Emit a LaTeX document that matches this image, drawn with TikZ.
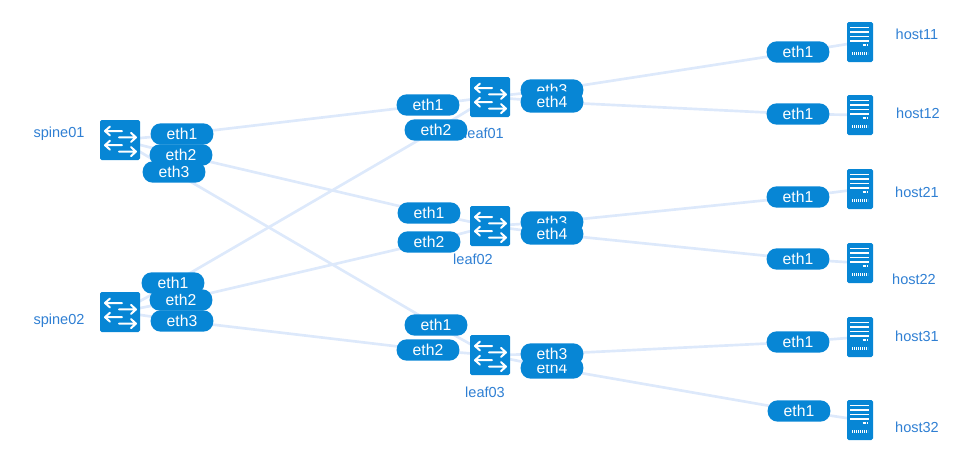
\documentclass[tikz,border=0pt]{standalone}
\usepackage{fontspec}
\setmainfont{Liberation Sans}
\definecolor{portblue}{HTML}{0786D5}
\definecolor{linkblue}{HTML}{DDE9FB}
\definecolor{labelblue}{HTML}{2F7FD3}
\tikzset{
  link/.style={draw=linkblue,line width=2pt},
  port/.style={fill=portblue,text=white,rounded corners=7.5pt,minimum width=47pt,minimum height=16pt,inner sep=0pt,font=\fontsize{11.8pt}{13pt}\selectfont},
  devlabel/.style={text=labelblue,inner sep=0pt,font=\fontsize{10.9pt}{12pt}\selectfont},
  swbox/.style={fill=portblue,rounded corners=1.2pt,minimum size=30pt,inner sep=0pt},
  hostbox/.style={fill=portblue,rounded corners=1.2pt,minimum width=19.5pt,minimum height=30pt,inner sep=0pt},
  glyph/.style={draw=white,line width=1.5pt,line cap=round,line join=round},
  glyphthin/.style={draw=white,line width=1.05pt},
}
\newcommand{\swnode}[2]{%
  \node[swbox] (#1) at (#2) {};
  \begin{scope}[shift={(#1.center)}]
    \foreach \yy in {-9,5.2}{
      \draw[glyph] (2,\yy)--(-15,\yy) (-10,\yy-4.5)--(-15,\yy)--(-10,\yy+4.5);
      \draw[glyph] (-1,\yy+6.4)--(16,\yy+6.4) (11,\yy+1.9)--(16,\yy+6.4)--(11,\yy+10.9);
    }
  \end{scope}}
\newcommand{\hostnode}[2]{%
  \node[hostbox] (#1) at (#2) {};
  \begin{scope}[shift={(#1.center)}]
    \foreach \yy in {-14.3,-10,-5.3,-1}{
      \draw[glyphthin] (-9.7,\yy)--(9.3,\yy);
    }
    \draw[glyphthin,line width=0.9pt,dash pattern=on 2.4pt off 0.8pt] (2.5,3)--(8,3);
    \draw[glyphthin,line width=1.6pt,dash pattern=on 0.8pt off 0.7pt] (-8,11.5)--(8,11.5);
  \end{scope}}
\begin{document}
\begin{tikzpicture}[x=0.75pt,y=-0.75pt]
\useasboundingbox (0,0) rectangle (964,464);
% anchors for connector routing (device centres / port centres)
\coordinate (cS1) at (120,140);
\coordinate (cS2) at (120,312);
\coordinate (cL1) at (490,97);
\coordinate (cL2) at (490,226);
\coordinate (cL3) at (490,355);
\coordinate (cH1) at (860,42);
\coordinate (cH2) at (860,115);
\coordinate (cH3) at (860,189);
\coordinate (cH4) at (860,263);
\coordinate (cH5) at (860,337);
\coordinate (cH6) at (860,420);
\coordinate (pS1a) at (182,134);
\coordinate (pS1b) at (181,155);
\coordinate (pS1c) at (174,172);
\coordinate (pS2a) at (173,283);
\coordinate (pS2b) at (181,300);
\coordinate (pS2c) at (182,321);
\coordinate (pL1a) at (428,105);
\coordinate (pL1b) at (436,130);
\coordinate (pL1c) at (552,90);
\coordinate (pL1d) at (552,102);
\coordinate (pL2a) at (429,213);
\coordinate (pL2b) at (429,242);
\coordinate (pL2c) at (552,222);
\coordinate (pL2d) at (552,234);
\coordinate (pL3a) at (436,325);
\coordinate (pL3b) at (428,350);
\coordinate (pL3c) at (552,354);
\coordinate (pL3d) at (552,368);
\coordinate (pH1) at (798,52);
\coordinate (pH2) at (798,114);
\coordinate (pH3) at (798,197);
\coordinate (pH4) at (798,259);
\coordinate (pH5) at (798,342);
\coordinate (pH6) at (799,411);
% links
\draw[link] (cS1)--(pS1a)--(pL1a)--(cL1);
\draw[link] (cS1)--(pS1b)--(pL2a)--(cL2);
\draw[link] (cS1)--(pS1c)--(pL3a)--(cL3);
\draw[link] (cS2)--(pS2a)--(pL1b)--(cL1);
\draw[link] (cS2)--(pS2b)--(pL2b)--(cL2);
\draw[link] (cS2)--(pS2c)--(pL3b)--(cL3);
\draw[link] (cL1)--(pL1c)--(pH1)--(cH1);
\draw[link] (cL1)--(pL1d)--(pH2)--(cH2);
\draw[link] (cL2)--(pL2c)--(pH3)--(cH3);
\draw[link] (cL2)--(pL2d)--(pH4)--(cH4);
\draw[link] (cL3)--(pL3c)--(pH5)--(cH5);
\draw[link] (cL3)--(pL3d)--(pH6)--(cH6);
% labels
\node[devlabel] (lS1) at (59,134) {spine01};
\node[devlabel] (lS2) at (59,321) {spine02};
\node[devlabel] (lL1) at (484,133) {leaf01};
\node[devlabel] (lL2) at (473,259) {leaf02};
\node[devlabel] (lL3) at (485,392) {leaf03};
\node[devlabel] (lH1) at (917,34) {host11};
\node[devlabel] (lH2) at (918,113) {host12};
\node[devlabel] (lH3) at (917,192) {host21};
\node[devlabel] (lH4) at (914,279) {host22};
\node[devlabel] (lH5) at (917,336) {host31};
\node[devlabel] (lH6) at (917,427) {host32};
% devices
\swnode{S1}{cS1}
\swnode{S2}{cS2}
\swnode{L1}{cL1}
\swnode{L2}{cL2}
\swnode{L3}{cL3}
\hostnode{H1}{cH1}
\hostnode{H2}{cH2}
\hostnode{H3}{cH3}
\hostnode{H4}{cH4}
\hostnode{H5}{cH5}
\hostnode{H6}{cH6}
% ports
\node[port] (P1) at (pS1a) {eth1};
\node[port] (P2) at (pS1b) {eth2};
\node[port] (P3) at (pS1c) {eth3};
\node[port] (P4) at (pS2b) {eth2};
\node[port] (P5) at (pS2a) {eth1};
\node[port] (P6) at (pS2c) {eth3};
\node[port] (P7) at (pL1a) {eth1};
\node[port] (P8) at (pL1b) {eth2};
\node[port] (P9) at (pL1c) {eth3};
\node[port] (P10) at (pL1d) {eth4};
\node[port] (P11) at (pL2a) {eth1};
\node[port] (P12) at (pL2b) {eth2};
\node[port] (P13) at (pL2c) {eth3};
\node[port] (P14) at (pL2d) {eth4};
\node[port] (P15) at (pL3a) {eth1};
\node[port] (P16) at (pL3b) {eth2};
\node[port] (P17) at (pL3d) {eth4};
\node[port] (P18) at (pL3c) {eth3};
\node[port] (P19) at (pH1) {eth1};
\node[port] (P20) at (pH2) {eth1};
\node[port] (P21) at (pH3) {eth1};
\node[port] (P22) at (pH4) {eth1};
\node[port] (P23) at (pH5) {eth1};
\node[port] (P24) at (pH6) {eth1};
\end{tikzpicture}
\end{document}
